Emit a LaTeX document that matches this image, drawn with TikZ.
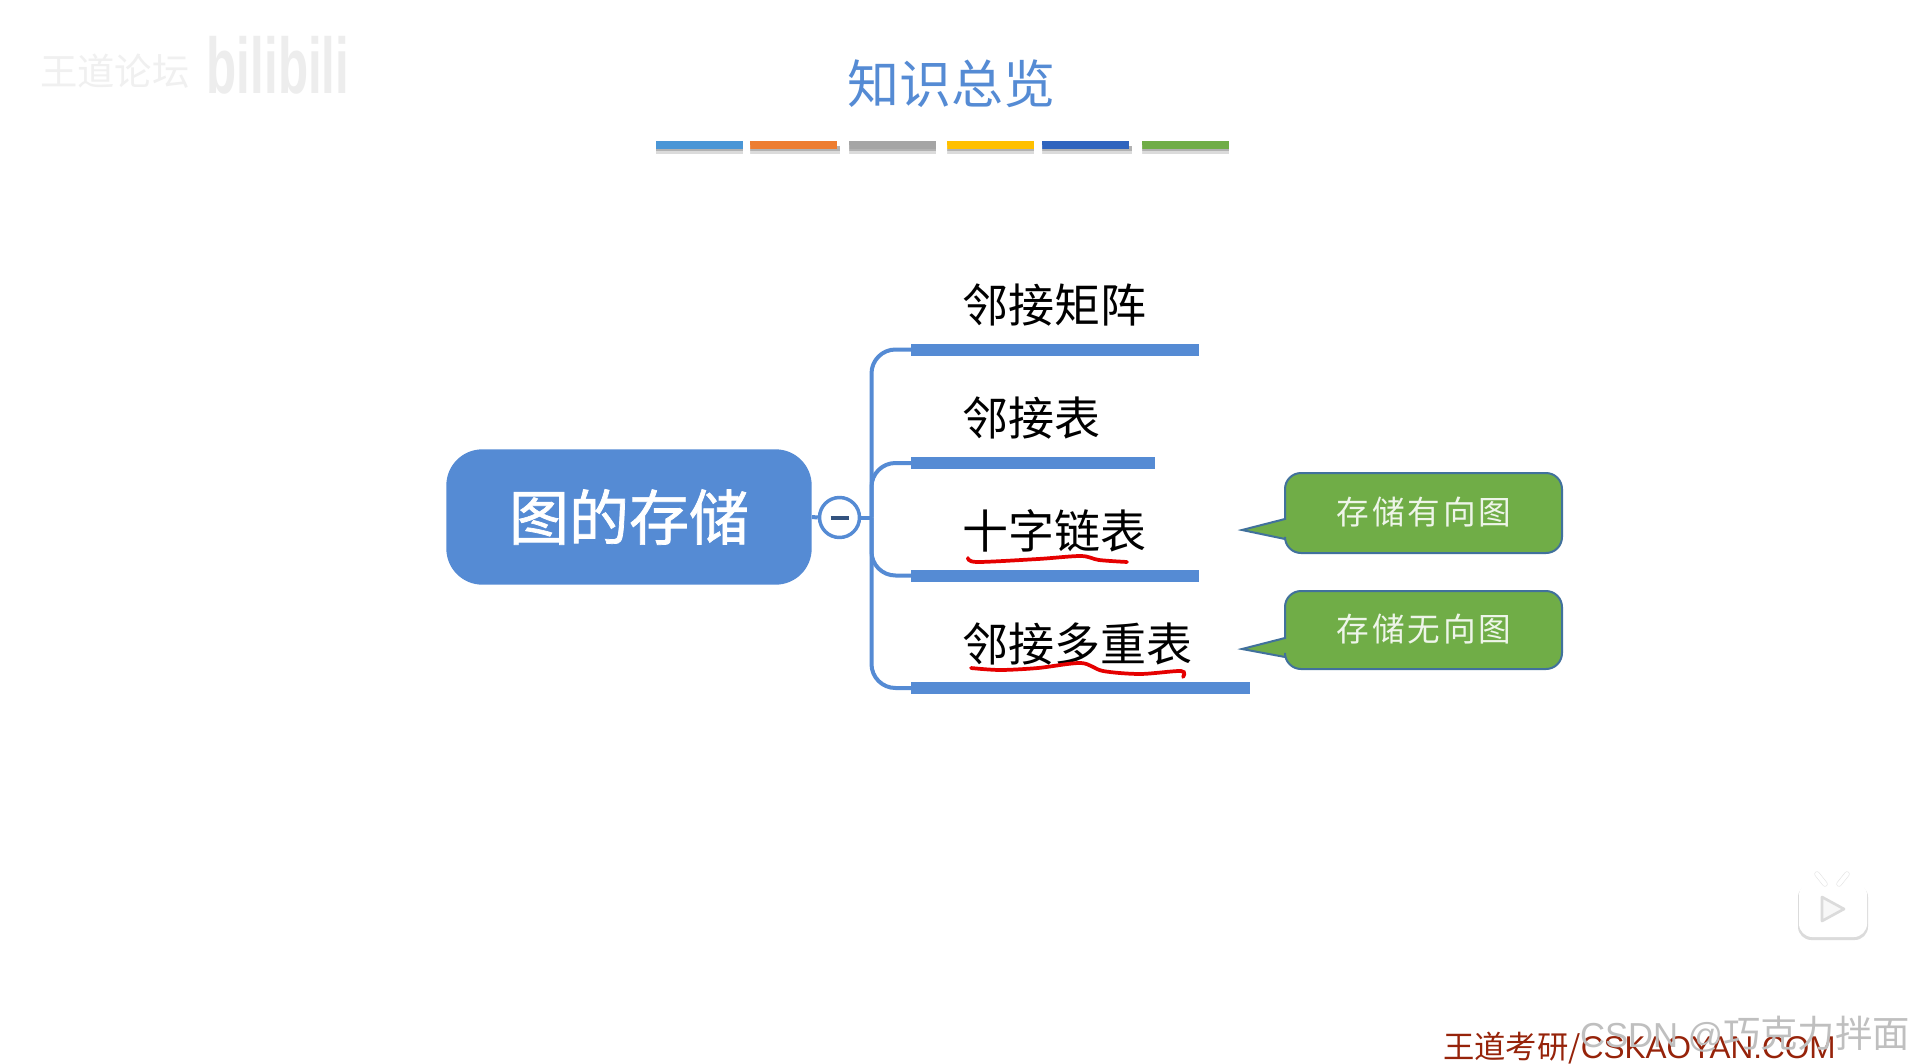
\documentclass[tikz,border=0pt]{standalone}
\usepackage{fontspec}
\setmainfont{Noto Sans CJK SC}
\newfontfamily\latinfont{Liberation Sans}
\newfontfamily\rootfont[FakeBold=1.2]{Noto Sans CJK SC}
\usetikzlibrary{positioning}
\definecolor{mapblue}{RGB}{85,139,212}
\definecolor{boxgreen}{RGB}{112,173,71}
\definecolor{boxedge}{RGB}{65,113,156}
\definecolor{footred}{RGB}{150,35,10}
\tikzset{
  barnode/.style={fill=mapblue,inner sep=0pt,minimum height=9pt,anchor=west},
  titlebar/.style={inner sep=0pt,minimum width=65pt,minimum height=6pt,anchor=north west},
  itemtext/.style={anchor=west,inner sep=0pt,font=\fontsize{34.5}{40}\selectfont},
  callouttext/.style={text=white!88!boxgreen,inner sep=0pt,font=\fontsize{24.5}{30}\selectfont},
  calloutbody/.style={fill=boxgreen,draw=boxedge,line width=1.5pt},
  branch/.style={draw=mapblue,line width=3pt},
  inkline/.style={draw=red!90!black,line width=2.8pt,line cap=round}
}
\newcommand{\gapchar}{\hspace{2.2pt}}
\begin{document}
\begin{tikzpicture}[x=0.75pt,y=0.75pt,yscale=-1]
\useasboundingbox[fill=white] (0,0) rectangle (1911,1064);

% faint marks, top left
\node (sitemark) [text=black!6,font=\fontsize{28}{32}\selectfont] at (115,71) {王道论坛};
\node (bilimark) [text=black!7,font=\latinfont\bfseries\fontsize{37}{42}\selectfont,yscale=1.6] at (278,65) {bilibili};

% title
\node (title) [text=mapblue,font=\fontsize{39}{46}\selectfont] at (951,84) {知识总览};
\fill [black!14] (656,147) rectangle (1229,154);
\fill [black!30] (656,146) rectangle (1229,151);
\node (tb1) [titlebar,fill={rgb,255:red,74;green,150;blue,214}] at (656,141) {};
\node (tb2) [titlebar,fill={rgb,255:red,237;green,125;blue,49}] at (750,141) {};
\node (tb3) [titlebar,fill={rgb,255:red,165;green,165;blue,165}] at (849,141) {};
\node (tb4) [titlebar,fill={rgb,255:red,255;green,192;blue,0}] at (947,141) {};
\node (tb5) [titlebar,fill={rgb,255:red,47;green,100;blue,190}] at (1042,141) {};
\node (tb6) [titlebar,fill={rgb,255:red,112;green,173;blue,71}] at (1142,141) {};
\fill [white] (743,145) rectangle (750,155) (840,145) rectangle (849,155) (936,145) rectangle (947,155) (1034,145) rectangle (1042,155) (1132,145) rectangle (1142,155);

% root and toggle
\node (root) [fill=mapblue,rounded corners=27pt,minimum width=274pt,minimum height=101.5pt,inner sep=0pt,text=white,font=\rootfont\fontsize{45}{50}\selectfont] at (629,517) {图的存储};
\node (toggle) [circle,draw=mapblue,fill=white,line width=2.6pt,minimum size=30pt,inner sep=0pt] at (839.5,517.5) {};
\coordinate (trunk) at (871.5,517.5);
\draw [branch] (root.east) -- (toggle.west);
\draw [branch] (toggle.east) -- (trunk);
\draw [draw=black!40!mapblue,line width=2.6pt] (830.5,518) -- (848.5,518);

% branches
\node (bar1) [barnode,minimum width=216pt] at (911,349.5) {};
\node (bar2) [barnode,minimum width=183pt] at (911,463) {};
\node (bar3) [barnode,minimum width=216pt] at (911,575.5) {};
\node (bar4) [barnode,minimum width=254pt] at (911,688) {};
\draw [branch,rounded corners=18pt] (trunk) |- (bar1.west);
\draw [branch,rounded corners=18pt] (trunk) |- (bar2.west);
\draw [branch,rounded corners=18pt] (trunk) |- (bar3.west);
\draw [branch,rounded corners=18pt] (trunk) |- (bar4.west);

% items
\node (item1) [itemtext] at (962,305) {邻接矩阵};
\node (item2) [itemtext] at (962,418) {邻接表};
\node (item3) [itemtext] at (962,530.5) {十字链表};
\node (item4) [itemtext] at (962,644) {邻接多重表};

% red pen
\draw [inkline] plot [smooth] coordinates {(968,558) (977,562) (1038,559) (1081,556) (1099,560) (1127,562)};
\draw [inkline] plot [smooth] coordinates {(971,668) (1000,670) (1038,668) (1081,663) (1103,671) (1140,674) (1181,671) (1183,677)};

% callouts
\draw [calloutbody] (1242,530) -- (1285,519) [rounded corners=12pt] -- (1285,473) -- (1562,473) -- (1562,553) -- (1285,553) [sharp corners] -- (1285,539) -- cycle;
\draw [calloutbody] (1242,649) -- (1285,638) [rounded corners=12pt] -- (1285,591) -- (1562,591) -- (1562,669) -- (1285,669) [sharp corners] -- (1285,657) -- cycle;
\node (note1) [callouttext] at (1424,512) {存\gapchar 储\gapchar 有\gapchar 向\gapchar 图};
\node (note2) [callouttext] at (1424,629) {存\gapchar 储\gapchar 无\gapchar 向\gapchar 图};

% player icon
\fill [black!14,rounded corners=10pt] (1798,884) rectangle (1868,940);
\fill [white,rounded corners=10pt] (1799,882) rectangle (1867,937);
\draw [black!10,line width=4pt,line cap=round] (1817,874) -- (1825,884) (1847,874) -- (1839,884);
\draw [white,line width=3pt,line cap=round] (1817,874) -- (1825,884) (1847,874) -- (1839,884);
\draw [black!14,line width=2pt,line join=round,fill=black!3] (1822,897) -- (1844,909) -- (1822,921) -- cycle;

% footer
\node (footer) [anchor=west,inner sep=0pt,text=footred,font=\fontsize{23.5}{28}\selectfont] at (1443,1048) {王道考研/{\latinfont\fontsize{23.6}{28}\selectfont CSKAOYAN.COM}};
\node (csdn) [anchor=east,inner sep=0pt,text=black!25,font=\fontsize{28}{32}\selectfont] at (1910,1034) {{\latinfont\fontsize{26}{30}\selectfont CSDN @}巧克力拌面};
\end{tikzpicture}
\end{document}
